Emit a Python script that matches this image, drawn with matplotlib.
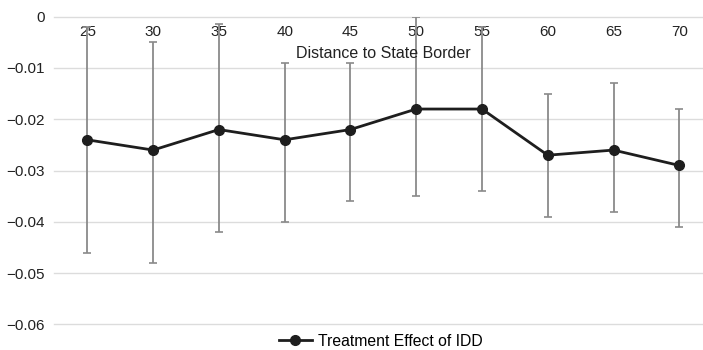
import matplotlib
matplotlib.use("Agg")
import matplotlib.pyplot as plt
import numpy as np

distances = ["25", "30", "35", "40", "45", "50", "55", "60", "65", "70"]
effect = [-0.024, -0.026, -0.022, -0.024, -0.022, -0.018, -0.018, -0.027, -0.026, -0.029]
ci_high = [-0.002, -0.005, -0.0015, -0.009, -0.009, 0.0, -0.002, -0.015, -0.013, -0.018]
ci_low = [-0.046, -0.048, -0.042, -0.040, -0.036, -0.035, -0.034, -0.039, -0.038, -0.041]
yticks = [0, -0.01, -0.02, -0.03, -0.04, -0.05, -0.06]
ytick_labels = ["0", "\u22120.01", "\u22120.02", "\u22120.03", "\u22120.04", "\u22120.05", "\u22120.06"]

plt.rcParams['font.family'] = ['Liberation Sans', 'DejaVu Sans']

fig = plt.figure(figsize=(7.03, 3.5), dpi=100)
ax = fig.add_axes([0.0774, 0.0729, 0.9357, 0.8794])

x = np.arange(len(distances))
eff = np.array(effect)
lo = eff - np.array(ci_low)
hi = np.array(ci_high) - eff

ax.errorbar(x, eff, yerr=[lo, hi], fmt='none', ecolor='#8a8a8a',
            elinewidth=1.3, capsize=3, capthick=1.2, zorder=2)
ax.plot(x, eff, color='#1e1e1e', lw=2, marker='o', markersize=7,
        zorder=3, label='Treatment Effect of IDD')

ax.set_xlim(-0.5, len(distances) - 0.5)
ax.set_ylim(-0.06, 0)
ax.set_yticks(yticks)
ax.set_yticklabels(ytick_labels, fontsize=11, color='#222222')
ax.grid(axis='y', color='#dcdcdc', lw=1)
for gl in ax.yaxis.get_gridlines():
    gl.set_clip_on(False)
ax.set_axisbelow(True)
for s in ax.spines.values():
    s.set_visible(False)
ax.tick_params(axis='y', length=0, pad=7)

ax.xaxis.tick_top()
ax.set_xticks(x)
ax.set_xticklabels(distances, fontsize=11, color='#222222')
ax.tick_params(axis='x', length=0, direction='in', pad=-16)
ax.text(0.5, (-0.0072 - (-0.06)) / 0.06, "Distance to State Border",
        transform=ax.transAxes, ha='center', va='center', fontsize=11.5, color='#222222')

fig.legend(loc='center', bbox_to_anchor=(381 / 703, (350 - 341) / 350),
           frameon=False, fontsize=11.3, handlelength=2.1, handletextpad=0.4,
           borderpad=0, borderaxespad=0)

fig.savefig("out.png", dpi=100)
